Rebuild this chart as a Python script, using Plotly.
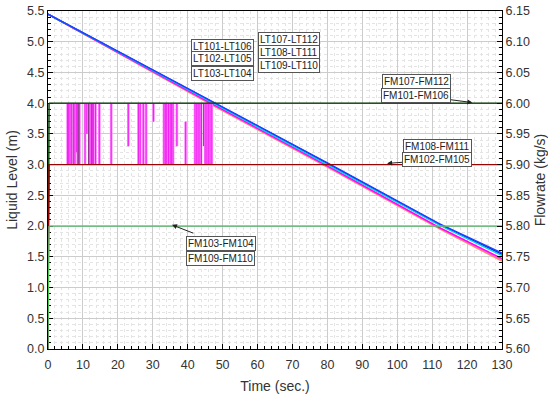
import plotly.graph_objects as go

# ---------------- data ----------------
time_pts = [0, 47, 80, 112, 130]
lt_names = ["LT109-LT110", "LT108-LT111", "LT107-LT112", "LT102-LT105", "LT103-LT104", "LT101-LT106"]
lt_values = {
    "LT109-LT110": [5.45, 3.97, 2.96, 1.96, 1.43],
    "LT108-LT111": [5.45, 3.98, 2.97, 1.97, 1.45],
    "LT107-LT112": [5.45, 3.99, 2.98, 1.98, 1.47],
    "LT103-LT104": [5.45, 4.01, 3.01, 2.02, 1.52],
    "LT102-LT105": [5.45, 4.02, 3.02, 2.03, 1.54],
    "LT101-LT106": [5.45, 4.03, 3.03, 2.04, 1.56],
}
lt_colors = {
    "LT109-LT110": "#FF8C69",
    "LT108-LT111": "#FF69B4",
    "LT107-LT112": "#FF00FF",
    "LT103-LT104": "#00D0F0",
    "LT102-LT105": "#1010C0",
    "LT101-LT106": "#2040FF",
}

fm_time = [0, 0.3, 130]
fm_names = ["FM107-FM112", "FM101-FM106", "FM108-FM111", "FM102-FM105", "FM109-FM110", "FM103-FM104"]
fm_values = {
    "FM107-FM112": [5.60, 6.00, 6.00],
    "FM101-FM106": [5.60, 6.00, 6.00],
    "FM108-FM111": [5.60, 5.90, 5.90],
    "FM102-FM105": [5.60, 5.90, 5.90],
    "FM109-FM110": [5.60, 5.80, 5.80],
    "FM103-FM104": [5.60, 5.80, 5.80],
}
fm_colors = {
    "FM107-FM112": "#202020",
    "FM101-FM106": "#005A00",
    "FM108-FM111": "#700000",
    "FM102-FM105": "#A00000",
    "FM109-FM110": "#B080F0",
    "FM103-FM104": "#40D040",
}

# flow fluctuations between 5.90 and 6.00 (kg/s)
spike_t = [5.6, 5.9, 6.3, 7.3, 7.7, 8.2, 8.5, 9.0, 10.6, 11.1, 12.0, 12.8, 13.0, 13.6,
           14.7, 18.1, 23.0, 25.9, 26.4, 27.3, 28.1, 30.2, 33.2, 33.6, 34.0, 34.5, 35.0,
           35.4, 35.8, 36.9, 39.4, 42.1, 42.6, 43.0, 43.5, 45.0, 45.5, 45.9, 46.4, 46.9]
spike_lo = [5.90, 5.90, 5.90, 5.90, 5.90, 5.92, 5.90, 5.90, 5.90, 5.95, 5.90, 5.90, 5.90, 5.90,
            5.90, 5.90, 5.93, 5.90, 5.90, 5.90, 5.90, 5.97, 5.90, 5.90, 5.90, 5.90, 5.90,
            5.90, 5.90, 5.93, 5.90, 5.90, 5.90, 5.90, 5.90, 5.90, 5.90, 5.90, 5.90, 5.90]
spike_hi = [6.00, 6.00, 6.00, 6.00, 6.00, 6.00, 6.00, 6.00, 6.00, 6.00, 6.00, 6.00, 6.00, 6.00,
            6.00, 6.00, 6.00, 6.00, 6.00, 6.00, 6.00, 6.00, 6.00, 6.00, 6.00, 6.00, 6.00,
            6.00, 6.00, 6.00, 5.97, 6.00, 6.00, 6.00, 6.00, 6.00, 6.00, 6.00, 6.00, 6.00]
dark_t = [6.8, 8.7, 11.6, 12.5, 44.0, 44.5]
dark_lo = [5.90, 5.90, 5.90, 5.90, 5.90, 5.93]
dark_hi = [6.00, 6.00, 6.00, 6.00, 6.00, 6.00]


def segments(ts, los, his):
    xs, ys = [], []
    for t, lo, hi in zip(ts, los, his):
        xs += [t, t, None]
        ys += [lo, hi, None]
    return xs, ys


fig = go.Figure()

sx, sy = segments(spike_t, spike_lo, spike_hi)
fig.add_trace(go.Scatter(x=sx, y=sy, yaxis="y2", mode="lines",
                         line=dict(color="#FF80FF", width=2.6), showlegend=False))
fig.add_trace(go.Scatter(x=sx, y=sy, yaxis="y2", mode="lines",
                         line=dict(color="#F020F0", width=1), showlegend=False))
dx, dy = segments(dark_t, dark_lo, dark_hi)
fig.add_trace(go.Scatter(x=dx, y=dy, yaxis="y2", mode="lines",
                         line=dict(color="#8B3A8B", width=1), showlegend=False))

for n in fm_names:
    fig.add_trace(go.Scatter(x=fm_time, y=fm_values[n], yaxis="y2", mode="lines", name=n,
                             line=dict(color=fm_colors[n], width=1), showlegend=False))

for n in lt_names:
    fig.add_trace(go.Scatter(x=time_pts, y=lt_values[n], mode="lines", name=n,
                             line=dict(color=lt_colors[n], width=1.5), showlegend=False))

font = "Liberation Sans, Arial, sans-serif"
fig.update_layout(
    width=548, height=401,
    margin=dict(l=48, r=46, t=11, b=52),
    paper_bgcolor="white", plot_bgcolor="white",
    font=dict(family=font, size=12, color="#333"),
    xaxis=dict(range=[0, 130], dtick=10, showline=True, linecolor="black", linewidth=1,
               mirror=True, ticks="inside", ticklen=5, tickcolor="black",
               showgrid=True, gridcolor="#cccccc", gridwidth=1, zeroline=False,
               layer="below traces", automargin=False, ticklabelstandoff=4,
               minor=dict(dtick=2, ticks="inside", ticklen=3, tickcolor="black",
                          showgrid=True, gridcolor="#e4e4e4", griddash="dot"),
               title=dict(text="Time (sec.)", font=dict(size=14), standoff=10),
               tickfont=dict(size=12.5)),
    yaxis=dict(range=[0, 5.5], dtick=0.5, tickformat=".1f", showline=True, linecolor="black",
               linewidth=1, ticks="inside", ticklen=5, tickcolor="black",
               showgrid=True, gridcolor="#cccccc", gridwidth=1, zeroline=False,
               layer="below traces", automargin=False,
               minor=dict(dtick=0.1, ticks="inside", ticklen=3, tickcolor="black",
                          showgrid=True, gridcolor="#e4e4e4", griddash="dot"),
               title=dict(text="Liquid Level (m)", font=dict(size=14), standoff=6),
               tickfont=dict(size=12.5)),
    yaxis2=dict(range=[5.6, 6.15], dtick=0.05, tickformat=".2f", overlaying="y", side="right",
                showline=True, linecolor="black", linewidth=1, ticks="inside", ticklen=5,
                tickcolor="black", showgrid=False, zeroline=False, automargin=False,
                minor=dict(dtick=0.01, ticks="inside", ticklen=3, tickcolor="black"),
                title=dict(text="Flowrate (kg/s)", font=dict(size=14), standoff=6),
                tickfont=dict(size=12.5)),
)

# label boxes (x in seconds, y in liquid level units)
labels = [
    ("LT101-LT106", 50.1, 4.93), ("LT102-LT105", 50.1, 4.72), ("LT103-LT104", 50.1, 4.49),
    ("LT107-LT112", 69.0, 5.04), ("LT108-LT111", 69.0, 4.83), ("LT109-LT110", 69.0, 4.61),
    ("FM107-FM112", 105.4, 4.36), ("FM108-FM111", 111.4, 3.30), ("FM109-FM110", 49.5, 1.48),
]
for txt, x, y in labels:
    fig.add_annotation(x=x, y=y, text=txt, showarrow=False, font=dict(size=10, color="#222"),
                       bgcolor="white", bordercolor="#555", borderwidth=1, borderpad=1)

arrows = [
    ("FM101-FM106", 105.4, 4.13, 121.5, 4.01),
    ("FM102-FM105", 111.4, 3.08, 97.1, 3.02),
    ("FM103-FM104", 49.5, 1.71, 35.5, 2.02),
]
for txt, x, y, ax, ay in arrows:
    fig.add_annotation(x=ax, y=ay, ax=x, ay=y, axref="x", ayref="y", text="", showarrow=True,
                       arrowhead=2, arrowsize=1, arrowwidth=1, arrowcolor="#222", standoff=0,
                       startstandoff=28)
    fig.add_annotation(x=x, y=y, text=txt, showarrow=False, font=dict(size=10, color="#222"),
                       bgcolor="white", bordercolor="#555", borderwidth=1, borderpad=1)

fig.write_html("out.html")
